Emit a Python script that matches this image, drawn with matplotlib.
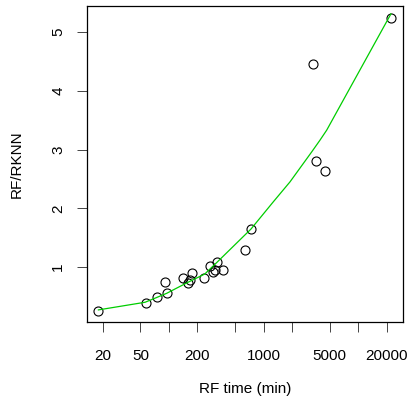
import matplotlib.pyplot as plt
from matplotlib.ticker import FixedLocator, NullLocator

# RF running time (minutes) and RF/RKNN time ratio
rf_time = [18, 57, 74, 96, 92, 141, 159, 167, 175, 237, 272, 294, 309, 325, 370,
           642, 738, 3304, 3580, 4496, 22180]
ratio = [0.256, 0.392, 0.484, 0.557, 0.745, 0.813, 0.722, 0.779, 0.903, 0.813, 1.017,
         0.92, 0.949, 1.085, 0.949, 1.289, 1.647, 4.450, 2.799, 2.634, 5.243]

# smoothed trend (green curve)
trend_time = [18, 56, 74, 95, 116, 159, 239, 322, 737, 1268, 1904, 3227, 3948,
              4647, 22180]
trend_ratio = [0.27, 0.40, 0.48, 0.553, 0.626, 0.74, 0.88, 1.08, 1.647, 2.11, 2.45,
               2.96, 3.16, 3.33, 5.31]

x_ticks = [20, 50, 100, 200, 500, 1000, 2000, 5000, 10000, 20000]
x_labels = ["20", "50", "", "200", "", "1000", "", "5000", "", "20000"]
y_ticks = [1, 2, 3, 4, 5]

plt.rcParams['font.family'] = ['Liberation Sans', 'DejaVu Sans']
fig = plt.figure(figsize=(4.13, 4.03), dpi=100)
ax = fig.add_axes([0.2107, 0.201, 0.765, 0.784])

ax.plot(rf_time, ratio, 'o', mfc='none', mec='black', ms=6.5, mew=0.8)
ax.plot(trend_time, trend_ratio, color='#00CD00', lw=0.9)

ax.set_xscale('log')
ax.set_xlim(10 ** 1.135, 10 ** 4.473)
ax.set_ylim(0.064, 5.443)
ax.xaxis.set_major_locator(FixedLocator(x_ticks))
ax.xaxis.set_minor_locator(NullLocator())
ax.set_xticks(x_ticks)
ax.set_xticklabels(x_labels)
ax.set_yticks(y_ticks)
ax.set_yticklabels([str(v) for v in y_ticks], rotation=90, va='center')

ax.tick_params(length=7.2, width=0.7, labelsize=11, color='#444444')
ax.tick_params(axis='x', pad=12)
ax.tick_params(axis='y', pad=8.5)
for s in ax.spines.values():
    s.set_linewidth(0.9)

ax.set_xlabel("RF time (min)", fontsize=11, labelpad=14)
ax.set_ylabel("RF/RKNN", fontsize=11, labelpad=19.5)

plt.savefig("out.png", dpi=100)
